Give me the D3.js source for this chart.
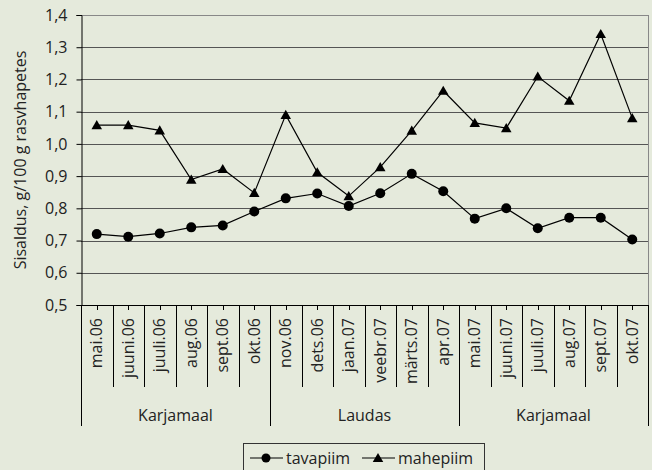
<!DOCTYPE html>
<html lang="et">
<head>
<meta charset="UTF-8" />
<title>Sisaldus</title>
<style>
    body { margin: 0; background: #e5eadc; }
    svg { display: block; font-family: "Open Sans", sans-serif; }
    .grid line { stroke-width: 1px; shape-rendering: crispEdges; }
    .series path { fill: none; stroke: #000; stroke-width: 1.2px; }
</style>
</head>
<body>
<svg width="652" height="470"></svg>
<script src="https://d3js.org/d3.v7.min.js"></script>
<script>
    const months = ['mai.06', 'juuni.06', 'juuli.06', 'aug.06', 'sept.06', 'okt.06',
        'nov.06', 'dets.06', 'jaan.07', 'veebr.07', 'märts.07', 'apr.07',
        'mai.07', 'juuni.07', 'juuli.07', 'aug.07', 'sept.07', 'okt.07'];
    const groups = ['Karjamaal', 'Laudas', 'Karjamaal'];
    const groupSize = [6, 6, 6];
    const tavapiim = [0.72, 0.712, 0.722, 0.741, 0.747, 0.79, 0.831, 0.846, 0.807, 0.847, 0.907, 0.853,
        0.768, 0.80, 0.738, 0.771, 0.771, 0.703];
    const mahepiim = [1.058, 1.058, 1.042, 0.889, 0.922, 0.848, 1.09, 0.912, 0.838, 0.928, 1.041, 1.165,
        1.065, 1.049, 1.209, 1.134, 1.341, 1.08];
    const yTicks = [0.5, 0.6, 0.7, 0.8, 0.9, 1.0, 1.1, 1.2, 1.3, 1.4];

    const svg = d3.select('svg');
    const pLeft = 81, pRight = 648, pTop = 15, pBottom = 305;
    const fs = 16;

    const x = d3.scaleBand().domain(months).range([pLeft, pRight]);
    const y = d3.scaleLinear().domain([0.5, 1.4]).range([pBottom, pTop]);
    const fmt = (d) => d3.format('.1f')(d).replace('.', ',');

    // grid lines
    svg.append('g').attr('class', 'grid')
        .selectAll('line').data(yTicks.slice(1)).join('line')
        .attr('x1', pLeft).attr('x2', pRight)
        .attr('y1', (d) => Math.round(y(d)) + 0.5).attr('y2', (d) => Math.round(y(d)) + 0.5)
        .attr('stroke', (d) => (d === 1.4 ? '#888' : '#555'));

    // right border
    svg.append('line')
        .attr('x1', pRight + 0.5).attr('x2', pRight + 0.5).attr('y1', pTop).attr('y2', pBottom)
        .attr('stroke', '#888').attr('shape-rendering', 'crispEdges');

    // y axis
    const yAxis = svg.append('g')
        .attr('transform', `translate(${pLeft + 0.5},0)`)
        .call(d3.axisLeft(y).tickValues(yTicks).tickFormat(fmt).tickSize(5).tickPadding(9));
    yAxis.select('.domain').attr('stroke', '#000');
    yAxis.selectAll('.tick line').attr('stroke', '#000');
    yAxis.selectAll('text').attr('font-size', fs).attr('fill', '#222')
        .attr('font-family', '"Open Sans", sans-serif');

    svg.append('text')
        .attr('transform', `translate(20,${(pTop + pBottom) / 2}) rotate(-90)`)
        .attr('text-anchor', 'middle').attr('dy', '0.35em')
        .attr('font-size', fs).attr('fill', '#222')
        .text('Sisaldus, g/100 g rasvhapetes');

    // x axis
    svg.append('line')
        .attr('x1', pLeft).attr('x2', pRight).attr('y1', pBottom + 0.5).attr('y2', pBottom + 0.5)
        .attr('stroke', '#000').attr('shape-rendering', 'crispEdges');

    const xg = svg.append('g');
    // small ticks at centers
    xg.selectAll('line.c').data(months).join('line').attr('class', 'c')
        .attr('x1', (d) => Math.round(x(d) + x.bandwidth() / 2) + 0.5)
        .attr('x2', (d) => Math.round(x(d) + x.bandwidth() / 2) + 0.5)
        .attr('y1', pBottom).attr('y2', pBottom + 5)
        .attr('stroke', '#000').attr('shape-rendering', 'crispEdges');

    // boundaries
    const bounds = d3.range(months.length + 1);
    const groupEnds = [0];
    groupSize.reduce((a, n) => { groupEnds.push(a + n); return a + n; }, 0);
    xg.selectAll('line.b').data(bounds).join('line').attr('class', 'b')
        .attr('x1', (i) => Math.round(pLeft + i * x.step()) + 0.5)
        .attr('x2', (i) => Math.round(pLeft + i * x.step()) + 0.5)
        .attr('y1', pBottom)
        .attr('y2', (i) => (groupEnds.includes(i) ? 426 : 387))
        .attr('stroke', '#000').attr('shape-rendering', 'crispEdges');

    xg.selectAll('text.m').data(months).join('text').attr('class', 'm')
        .attr('transform', (d) => `translate(${x(d) + x.bandwidth() / 2},${pBottom + 13}) rotate(-90)`)
        .attr('text-anchor', 'end').attr('dy', '0.35em')
        .attr('font-size', fs).attr('fill', '#222')
        .text((d) => d);

    xg.selectAll('text.g').data(groups).join('text').attr('class', 'g')
        .attr('x', (d, i) => pLeft + ((groupEnds[i] + groupEnds[i + 1]) / 2) * x.step())
        .attr('y', 421)
        .attr('text-anchor', 'middle')
        .attr('font-size', fs).attr('fill', '#222')
        .text((d) => d);

    // series
    const cx = (i) => x(months[i]) + x.bandwidth() / 2;
    const line = d3.line().x((d, i) => cx(i)).y((d) => y(d));
    const tri = d3.symbol().type(d3.symbolTriangle).size(48);

    const s = svg.append('g').attr('class', 'series');
    s.append('path').attr('d', line(mahepiim));
    s.append('path').attr('d', line(tavapiim));
    s.selectAll('circle').data(tavapiim).join('circle')
        .attr('cx', (d, i) => cx(i)).attr('cy', (d) => y(d)).attr('r', 5).attr('fill', '#000');
    s.selectAll('path.t').data(mahepiim).join('path').attr('class', 't')
        .attr('d', tri).style('fill', '#000').style('stroke', 'none')
        .attr('transform', (d, i) => `translate(${cx(i)},${y(d) + 1})`);

    // legend
    const lg = svg.append('g');
    lg.append('rect').attr('x', 243.5).attr('y', 443.5).attr('width', 241).attr('height', 30)
        .attr('fill', 'none').attr('stroke', '#333');
    const items = [
        { name: 'tavapiim', x0: 250, type: 'circle' },
        { name: 'mahepiim', x0: 362, type: 'tri' }
    ];
    items.forEach((it) => {
        lg.append('line').attr('x1', it.x0).attr('x2', it.x0 + 33).attr('y1', 458).attr('y2', 458)
            .attr('stroke', '#000').attr('stroke-width', 1.2);
        if (it.type === 'circle') {
            lg.append('circle').attr('cx', it.x0 + 16).attr('cy', 458).attr('r', 4.5);
        } else {
            lg.append('path').attr('d', tri).attr('transform', `translate(${it.x0 + 16},459)`);
        }
        lg.append('text').attr('x', it.x0 + 36).attr('y', 458).attr('dy', '0.35em')
            .attr('font-size', fs).attr('fill', '#222').text(it.name);
    });
</script>
</body>
</html>
